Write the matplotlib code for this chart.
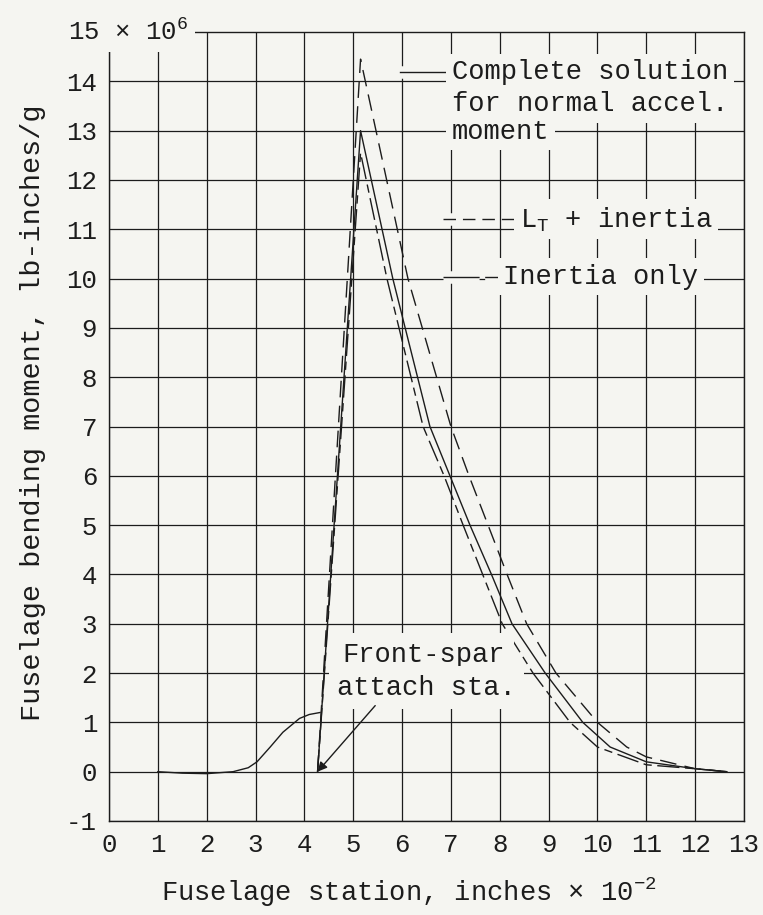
import matplotlib.pyplot as plt
import matplotlib.patheffects as pe

# fuselage bending moment per g along the fuselage, x in inches/100, y in 1e6 lb-in
front_spar_sta = 4.27

fwd_sta = [1.0, 1.5, 2.0, 2.54, 2.85, 3.03, 3.3, 3.56, 3.9, 4.1, 4.32]
fwd_moment = [0.0, -0.03, -0.04, 0.0, 0.08, 0.2, 0.5, 0.8, 1.08, 1.16, 1.2]

complete_sta = [front_spar_sta, 5.15, 5.81, 6.57, 6.98, 7.39, 7.83, 8.25, 8.93, 9.7, 10.26, 11.0, 12.0, 12.65]
complete_moment = [0.0, 13.0, 10.0, 7.0, 6.0, 5.0, 4.0, 3.0, 2.0, 1.0, 0.5, 0.2, 0.06, 0.0]

lt_sta = [front_spar_sta, 5.15, 6.12, 7.0, 7.37, 7.76, 8.15, 8.55, 9.15, 10.0, 10.6, 11.0, 12.0, 12.65]
lt_moment = [0.0, 14.45, 10.0, 7.0, 6.0, 5.0, 4.0, 3.0, 2.0, 1.0, 0.5, 0.3, 0.06, 0.0]

inertia_sta = [front_spar_sta, 5.15, 5.69, 6.43, 6.86, 7.25, 7.65, 8.05, 8.68, 9.44, 10.0, 11.0, 12.0, 12.65]
inertia_moment = [0.0, 12.55, 10.0, 7.0, 6.0, 5.0, 4.0, 3.0, 2.0, 1.0, 0.5, 0.14, 0.06, 0.0]

x_ticks = list(range(0, 14))
y_ticks = list(range(-1, 15))

paper = '#f5f5f1'
ink = '#1c1c1c'
font = 'Liberation Mono'

plt.rcParams['font.family'] = [font, 'DejaVu Sans']
plt.rcParams['mathtext.fontset'] = 'custom'
plt.rcParams['mathtext.rm'] = font
plt.rcParams['mathtext.it'] = font
plt.rcParams['axes.unicode_minus'] = False

fig = plt.figure(figsize=(7.63, 9.15), dpi=100, facecolor=paper)
ax = fig.add_axes([109 / 763, 94 / 915, 635 / 763, 789 / 915], facecolor=paper)

dash_lt = (0, (12, 6))
dash_inertia = (0, (16, 4, 6, 4))

ax.plot(fwd_sta, fwd_moment, color=ink, lw=1.0)
ax.plot(complete_sta, complete_moment, color=ink, lw=1.0)
ax.plot(lt_sta, lt_moment, color=ink, lw=1.0, linestyle=dash_lt)
ax.plot(inertia_sta, inertia_moment, color=ink, lw=1.0, linestyle=dash_inertia)

ax.set_xlim(0, 13)
ax.set_ylim(-1, 15)
ax.set_xticks(x_ticks)
ax.set_yticks(y_ticks)
ax.grid(True, color=ink, lw=0.9)
for s in ax.spines.values():
    s.set_color(ink)
    s.set_linewidth(1.0)
ax.tick_params(length=0, pad=8.5, labelsize=18.5, colors=ink)

ax.set_xlabel('Fuselage station, inches × 10$^{-2}$', fontsize=19.5, va='baseline', color=ink)
ax.xaxis.set_label_coords(0.472, -0.102)
ax.set_ylabel('Fuselage bending moment, lb-inches/g', fontsize=20.5, va='baseline', color=ink)
ax.yaxis.set_label_coords(-0.108, 0.518)

box = dict(facecolor=paper, edgecolor='none', pad=4)
mask = [pe.Stroke(linewidth=9, foreground=paper), pe.Normal()]

ax.text(-0.84, 15, '15 × 10$^{6}$', fontsize=18.5, ha='left', va='center', color=ink,
        clip_on=False, bbox=dict(facecolor=paper, edgecolor='none', pad=5))

# key
ax.text(7.02, 14.18, 'Complete solution', fontsize=19.5, va='center', color=ink, bbox=box)
ax.text(7.02, 13.53, 'for normal accel.', fontsize=19.5, va='center', color=ink, bbox=box)
ax.text(7.02, 12.98, 'moment', fontsize=19.5, va='center', color=ink, bbox=box)
ax.plot([5.95, 7.02], [14.18, 14.18], color=ink, lw=1.0, path_effects=mask)

ax.text(8.41, 11.2, 'L$_{\\mathrm{T}}$ + inertia', fontsize=19.5, va='center', color=ink, bbox=box)
ax.plot([6.84, 8.3], [11.2, 11.2], color=ink, lw=1.0, linestyle=(0, (9, 5)), path_effects=mask)

ax.text(8.07, 10.04, 'Inertia only', fontsize=19.5, va='center', color=ink, bbox=box)
ax.plot([6.84, 8.0], [10.04, 10.04], color=ink, lw=1.0, linestyle=(0, (26, 4, 10, 4)),
        path_effects=mask)

# front spar callout
spar_box = dict(facecolor=paper, edgecolor='none', pad=6)
ax.text(6.45, 2.37, 'Front-spar', fontsize=19.5, ha='center', va='center', color=ink, bbox=spar_box)
ax.text(6.5, 1.7, 'attach sta.', fontsize=19.5, ha='center', va='center', color=ink, bbox=spar_box)
ax.plot([4.73, 8.21], [1.34, 1.34], color=ink, lw=1.0)
ax.annotate('', xy=(front_spar_sta, 0), xytext=(5.45, 1.34),
            arrowprops=dict(arrowstyle='-|>', mutation_scale=14, lw=1.0, color=ink,
                            shrinkA=0, shrinkB=0))

fig.savefig('out.png', dpi=100, facecolor=paper)
